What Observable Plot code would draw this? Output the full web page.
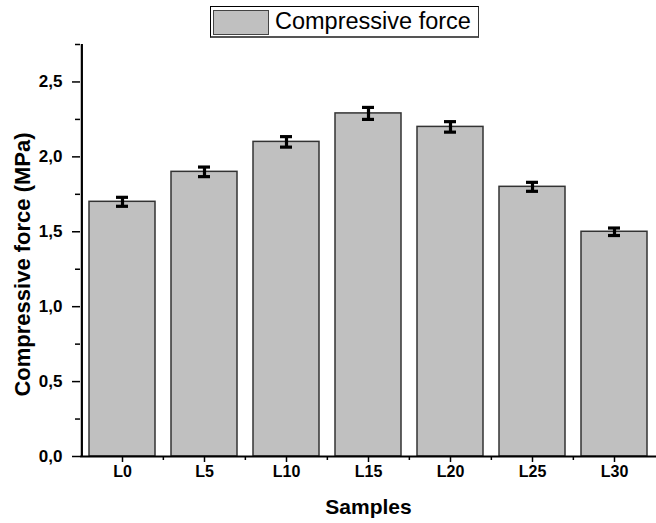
<!DOCTYPE html>
<html>
<head>
<meta charset="utf-8">
<script src="https://cdn.jsdelivr.net/npm/d3@7"></script>
<script src="https://cdn.jsdelivr.net/npm/@observablehq/plot@0.6"></script>
<style>
  html, body { margin: 0; padding: 0; background: #fff; }
  #wrap { position: relative; width: 656px; height: 523px; font-family: "Liberation Sans", Arial, sans-serif; }
  #legend { position: absolute; left: 210px; top: 6px; width: 267px; height: 29px; border: 1px solid #000; border-bottom: 2px solid #555; border-right: 1px solid #333; background: #fff; }
  #legend .sw { position: absolute; left: 2px; top: 3px; width: 54px; height: 23px; background: #c0c0c0; border: 1px solid #444; }
  #legend .lb { position: absolute; left: 64px; top: -1px; font-size: 23.5px; line-height: 30px; color: #000; white-space: nowrap; }
</style>
</head>
<body>
<div id="wrap">
  <div id="chart"></div>
  <div id="legend"><div class="sw"></div><div class="lb">Compressive force</div></div>
</div>
<script>
const samples = ["L0", "L5", "L10", "L15", "L20", "L25", "L30"];
const force = [1.70, 1.90, 2.10, 2.29, 2.20, 1.80, 1.50];
const errors = [0.03, 0.032, 0.035, 0.04, 0.035, 0.03, 0.025];
const majorTicks = [0, 0.5, 1.0, 1.5, 2.0, 2.5];
const minorTicks = [0.25, 0.75, 1.25, 1.75, 2.25, 2.75];
const yLabel = "Compressive force (MPa)";
const xLabel = "Samples";
const legendLabel = "Compressive force";

const data = samples.map((s, i) => ({sample: s, value: force[i], err: errors[i]}));

const W = 656, H = 523, ML = 80, MR = 0, MT = 44, MB = 67;
const step = (W - ML - MR) / (samples.length);
const fmt = d => d.toFixed(1).replace(".", ",");

const plot = Plot.plot({
  width: W,
  height: H,
  marginLeft: ML,
  marginRight: MR,
  marginTop: MT,
  marginBottom: MB,
  style: {fontFamily: "'Liberation Sans', Arial, sans-serif", background: "#fff", overflow: "visible"},
  x: {domain: samples, paddingInner: 0.2, paddingOuter: 0.1, label: null},
  y: {domain: [0, 2.75], label: null},
  marks: [
    Plot.barY(data, {x: "sample", y: "value", fill: "#c0c0c0", stroke: "#333", strokeWidth: 1.5}),
    Plot.ruleX(data, {x: "sample", y1: d => d.value - d.err, y2: d => d.value + d.err, stroke: "#000", strokeWidth: 3.2}),
    Plot.tickY(data, {x: "sample", y: d => d.value - d.err, stroke: "#000", strokeWidth: 3.2, insetLeft: 27, insetRight: 27}),
    Plot.tickY(data, {x: "sample", y: d => d.value + d.err, stroke: "#000", strokeWidth: 3.2, insetLeft: 27, insetRight: 27}),
    // y axis
    Plot.axisY({ticks: majorTicks, tickFormat: fmt, tickSize: 8, tickPadding: 10, fontSize: 17, fontWeight: "bold", strokeWidth: 1.5, label: null}),
    Plot.axisY({ticks: minorTicks, tickFormat: () => "", tickSize: 5, strokeWidth: 1.5, label: null}),
    Plot.ruleX([0], {x: () => samples[0], y1: 0, y2: 2.75, dx: -step / 2 + 0.5, stroke: "#000", strokeWidth: 2.2}),
    // x axis
    Plot.axisX({tickSize: 6, tickPadding: 3, fontSize: 16, fontWeight: "bold", strokeWidth: 1.5, label: null}),
    Plot.axisX({ticks: samples.slice(1), tickFormat: () => "", tickSize: 4, dx: -step / 2, strokeWidth: 1.5, label: null}),
    Plot.ruleY([0], {stroke: "#000", strokeWidth: 2.2}),
    // axis titles
    Plot.text([yLabel], {frameAnchor: "left", textAnchor: "middle", rotate: -90, dx: -58, dy: 14, fontSize: 22, fontWeight: "bold", fill: "#000"}),
    Plot.text([xLabel], {frameAnchor: "bottom", dy: 57, fontSize: 21, fontWeight: "bold", fill: "#000"})
  ]
});
document.getElementById("chart").appendChild(plot);
</script>
</body>
</html>
